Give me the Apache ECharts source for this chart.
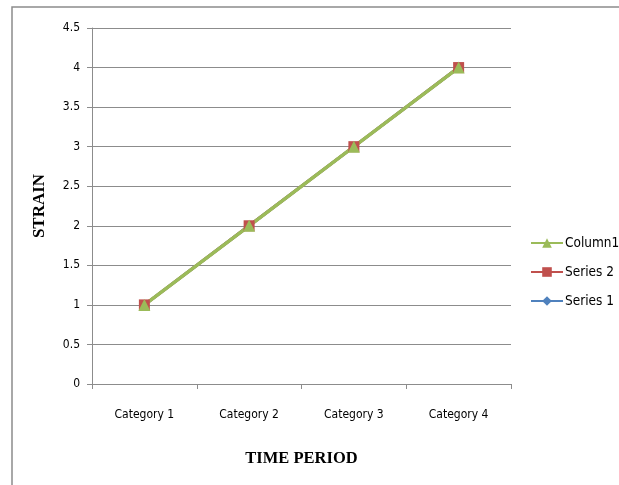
<!DOCTYPE html>
<html>
<head>
<meta charset="utf-8">
<script src="https://cdn.jsdelivr.net/npm/echarts@6/dist/echarts.min.js"></script>
<style>
html,body{margin:0;padding:0;background:#fff;}
#chart{width:619px;height:485px;}
</style>
</head>
<body>
<div id="chart"></div>
<script>
// Categories and series values
const categories = ['Category 1', 'Category 2', 'Category 3', 'Category 4'];
const series1 = [1, 2, 3, 4];
const series2 = [1, 2, 3, 4];
const column1 = [1, 2, 3, 4];

const labelFont = '"Liberation Sans Narrow", "DejaVu Sans Condensed", Arial, sans-serif';
const titleFont = '"Liberation Serif", "DejaVu Serif", serif';

const chart = echarts.init(document.getElementById('chart'), null, {renderer: 'canvas'});

chart.setOption({
  backgroundColor: '#fff',
  animation: false,
  graphic: [{
    // outer chart frame (left and top edges visible)
    type: 'polyline',
    shape: {points: [[12, 490], [12, 7], [625, 7]]},
    style: {stroke: '#8c8c8c', lineWidth: 1.5, fill: null}
  }],
  grid: {left: 92, right: 108, top: 28, bottom: 101},
  legend: {
    orient: 'vertical',
    left: 525,
    top: 231,
    itemWidth: 32,
    itemHeight: 12,
    itemGap: 15,
    data: ['Column1', 'Series 2', 'Series 1'],
    textStyle: {fontFamily: labelFont, fontSize: 13.5, color: '#000', padding: [0, 0, 0, -3]}
  },
  xAxis: {
    type: 'category',
    data: categories,
    name: 'TIME PERIOD',
    nameLocation: 'middle',
    nameGap: 66,
    nameTextStyle: {fontFamily: titleFont, fontWeight: 'bold', fontSize: 16.5, color: '#000'},
    axisLine: {lineStyle: {color: '#8c8c8c', width: 1}},
    axisTick: {show: true, length: 5, lineStyle: {color: '#8c8c8c'}},
    axisLabel: {fontFamily: labelFont, fontSize: 12, color: '#000', margin: 25}
  },
  yAxis: {
    type: 'value',
    min: 0, max: 4.5, interval: 0.5,
    name: 'STRAIN',
    nameLocation: 'middle',
    nameGap: 44,
    nameTextStyle: {fontFamily: titleFont, fontWeight: 'bold', fontSize: 17, color: '#000'},
    axisLine: {show: true, lineStyle: {color: '#8c8c8c', width: 1}},
    axisTick: {show: true, length: 5, lineStyle: {color: '#8c8c8c'}},
    axisLabel: {fontFamily: labelFont, fontSize: 12, color: '#000', margin: 12},
    splitLine: {lineStyle: {color: '#8c8c8c', width: 1}}
  },
  series: [{
    name: 'Series 1',
    type: 'line',
    data: series1,
    symbol: 'diamond',
    symbolSize: 10,
    itemStyle: {color: '#4F81BD'},
    lineStyle: {color: '#4F81BD', width: 3}
  }, {
    name: 'Series 2',
    type: 'line',
    data: series2,
    symbol: 'rect',
    symbolSize: 11,
    itemStyle: {color: '#C0504D'},
    lineStyle: {color: '#C0504D', width: 3}
  }, {
    name: 'Column1',
    type: 'line',
    data: column1,
    symbol: 'triangle',
    symbolSize: 12,
    itemStyle: {color: '#9BBB59'},
    lineStyle: {color: '#9BBB59', width: 3.5}
  }]
});
</script>
</body>
</html>
